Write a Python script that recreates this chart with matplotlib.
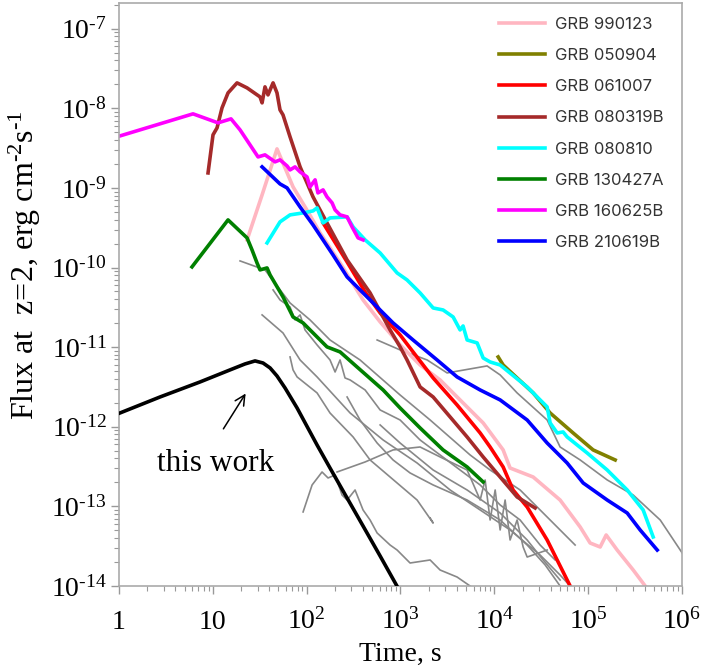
import numpy as np
import matplotlib
matplotlib.use('Agg')
import matplotlib.pyplot as plt
from matplotlib.ticker import FixedLocator, FuncFormatter, LogLocator, NullFormatter

plt.rcParams['font.family'] = ['Liberation Serif', 'DejaVu Serif']
plt.rcParams['mathtext.fontset'] = 'custom'
plt.rcParams['mathtext.rm'] = 'Liberation Serif'
plt.rcParams['mathtext.it'] = 'Liberation Serif:italic'
plt.rcParams['mathtext.bf'] = 'Liberation Serif:bold'

HY = '\u2010'  # short hyphen for exponents, as in the original

# light curves as log10(time / s) and log10(flux / erg cm^-2 s^-1)
# "this work"
model_lt = [0.01, 0.437, 0.864, 1.183, 1.343, 1.45, 1.535, 1.61, 1.684, 1.77, 1.898,
            2.111, 2.249, 2.431, 2.601, 2.783, 2.974]
model_lf = [-11.827, -11.626, -11.437, -11.286, -11.211, -11.173, -11.199, -11.261, -11.362,
            -11.513, -11.764, -12.229, -12.518, -12.895, -13.246, -13.623, -14.025]

# GRB 990123
grb990123_lt = [1.365, 1.525, 1.684, 1.855, 2.015, 2.143, 2.356, 2.601, 2.783, 2.996, 3.209,
                3.422, 3.635, 3.881, 4.094, 4.168, 4.414, 4.701, 4.915, 5.021, 5.128, 5.192,
                5.309, 5.48, 5.608]
grb990123_lf = [-9.653, -9.088, -8.51, -8.987, -9.302, -9.565, -9.942, -10.407, -10.683,
                -10.972, -11.224, -11.412, -11.663, -11.952, -12.291, -12.518, -12.631,
                -12.92, -13.259, -13.46, -13.51, -13.359, -13.548, -13.799, -14.0]

# GRB 050904
grb050904_lt = [4.041, 4.094, 4.414, 4.595, 4.84, 5.053, 5.288]
grb050904_lf = [-11.123, -11.224, -11.575, -11.827, -12.078, -12.291, -12.417]

# GRB 061007
grb061007_lt = [2.175, 2.431, 2.623, 2.783, 2.996, 3.134, 3.348, 3.603, 3.849, 3.955, 4.094,
                4.2, 4.35, 4.563, 4.808]
grb061007_lf = [-9.44, -9.93, -10.307, -10.57, -10.847, -11.06, -11.387, -11.726, -12.078,
                -12.254, -12.505, -12.794, -13.008, -13.422, -14.0]

# GRB 080319B
grb080319b_lt = [0.949, 1.002, 1.045, 1.098, 1.162, 1.258, 1.365, 1.503, 1.525, 1.556, 1.588,
                 1.642, 1.684, 1.716, 1.748, 1.823, 1.93, 2.068, 2.217, 2.431, 2.676, 2.889,
                 2.996, 3.07, 3.209, 3.348, 3.529, 3.71, 3.881, 4.062, 4.243, 4.435]
grb080319b_lf = [-8.812, -8.334, -8.246, -7.995, -7.807, -7.681, -7.744, -7.857, -7.932,
                 -7.731, -7.832, -7.681, -7.807, -8.02, -8.083, -8.359, -8.736, -9.113, -9.44,
                 -9.905, -10.319, -10.784, -10.997, -11.161, -11.5, -11.626, -11.877, -12.128,
                 -12.379, -12.631, -12.882, -13.02]

# GRB 080810
grb080810_lt = [1.578, 1.716, 1.823, 1.962, 2.068, 2.111, 2.175, 2.249, 2.431, 2.495, 2.623,
                2.783, 2.964, 3.07, 3.209, 3.348, 3.454, 3.561, 3.635, 3.667, 3.71, 3.817,
                3.881, 3.955, 4.062, 4.35, 4.563, 4.595, 4.67, 4.733, 4.776, 4.989, 5.203,
                5.416, 5.586, 5.693]
grb080810_lf = [-9.691, -9.427, -9.339, -9.314, -9.289, -9.251, -9.44, -9.377, -9.364, -9.49,
                -9.653, -9.817, -10.068, -10.156, -10.319, -10.508, -10.533, -10.621, -10.784,
                -10.734, -10.91, -10.947, -11.136, -11.186, -11.224, -11.5, -11.751, -11.952,
                -12.078, -12.065, -12.128, -12.329, -12.543, -12.794, -13.045, -13.384]

# GRB 130427A
grb130427a_lt = [0.778, 1.162, 1.365, 1.418, 1.471, 1.503, 1.578, 1.61, 1.748, 1.855, 1.962,
                 2.111, 2.217, 2.356, 2.537, 2.815, 2.996, 3.209, 3.454, 3.71, 3.881]
grb130427a_lf = [-9.992, -9.402, -9.628, -9.779, -9.942, -10.03, -10.005, -10.093, -10.369,
                 -10.621, -10.696, -10.872, -10.997, -11.06, -11.249, -11.538, -11.764,
                 -12.015, -12.291, -12.505, -12.693]

# GRB 160625B
grb160625b_lt = [0.011, 0.789, 1.055, 1.194, 1.29, 1.482, 1.556, 1.663, 1.716, 1.791, 1.823,
                 1.876, 1.93, 2.004, 2.036, 2.09, 2.12, 2.175, 2.217, 2.271, 2.303, 2.356,
                 2.431, 2.484, 2.548, 2.601]
grb160625b_lf = [-8.347, -8.07, -8.183, -8.133, -8.271, -8.611, -8.585, -8.673, -8.648, -8.724,
                 -8.774, -8.736, -8.799, -8.862, -8.987, -8.899, -9.063, -9.025, -9.113,
                 -9.188, -9.276, -9.339, -9.364, -9.49, -9.628, -9.653]

# GRB 210619B
grb210619b_lt = [1.525, 1.716, 1.791, 1.93, 2.068, 2.281, 2.431, 2.708, 2.921, 3.134, 3.39,
                 3.603, 3.849, 4.062, 4.35, 4.563, 4.776, 4.947, 5.203, 5.416, 5.554, 5.736]
grb210619b_lf = [-8.736, -8.95, -9.0, -9.239, -9.465, -9.842, -10.118, -10.445, -10.696,
                 -10.91, -11.161, -11.374, -11.538, -11.663, -11.915, -12.204, -12.455,
                 -12.706, -12.92, -13.083, -13.296, -13.548]

# background sample (grey)
grey_a_lt = [1.29, 1.556, 1.823, 2.036, 2.249, 2.569, 2.996, 3.316, 3.742, 3.955, 4.275, 4.595, 4.861]
grey_a_lf = [-9.917, -10.03, -10.445, -10.658, -10.91, -11.161, -11.601, -11.915, -12.354,
             -12.543, -12.794, -13.171, -13.485]
grey_b_lt = [1.525, 1.748, 1.93, 2.111, 2.463, 2.815, 3.177, 3.529, 3.849, 4.168, 4.488, 4.701, 4.808]
grey_b_lf = [-10.595, -10.822, -11.161, -11.374, -11.827, -12.166, -12.455, -12.794, -13.045,
             -13.296, -13.611, -13.862, -14.0]
grey_c_lt = [1.642, 1.716, 1.823, 1.876, 1.93, 1.983, 2.111, 2.249, 2.303, 2.356, 2.409, 2.463,
             2.623, 2.783, 2.996, 3.209, 3.422, 3.635, 3.849, 4.062, 4.275, 4.488, 4.648]
grey_c_lf = [-10.281, -10.407, -10.495, -10.658, -10.595, -10.784, -10.972, -11.161, -11.312,
             -11.161, -11.387, -11.412, -11.538, -11.789, -11.915, -12.166, -12.354, -12.543,
             -12.731, -12.982, -13.171, -13.485, -13.673]
grey_d_lt = [1.823, 1.855, 1.898, 2.111, 2.249, 2.495, 2.676, 2.964, 3.177, 3.348, 3.316]
grey_d_lf = [-11.123, -11.286, -11.374, -11.575, -11.827, -12.128, -12.417, -12.706, -12.92,
             -13.209, -13.146]
grey_e_lt = [1.962, 2.058, 2.164, 2.228, 2.303, 2.377, 2.431, 2.516, 2.601, 2.676, 2.751,
             2.889, 2.964, 3.102, 3.316, 3.422, 3.603, 3.742]
grey_e_lf = [-13.07, -12.731, -12.568, -12.643, -12.606, -12.857, -12.92, -12.794, -13.045,
             -13.171, -13.334, -13.485, -13.548, -13.711, -13.673, -13.799, -13.887, -14.0]
grey_f_lt = [2.324, 2.623, 2.921, 3.209, 3.422, 3.71, 3.849, 3.902, 3.955, 4.009, 4.062, 4.115,
             4.168, 4.243, 4.307, 4.35, 4.563]
grey_f_lf = [-12.568, -12.442, -12.291, -12.254, -12.379, -12.543, -12.92, -12.668, -13.171,
             -12.794, -13.296, -12.92, -13.422, -13.171, -13.51, -13.636, -13.548]
grey_g_lt = [2.751, 2.996, 3.284, 3.497, 3.923, 4.062, 4.243, 4.563, 4.701, 4.915, 5.203, 5.48,
             5.768, 6.002]
grey_g_lf = [-10.91, -11.035, -11.161, -11.324, -11.236, -11.349, -11.575, -11.915, -12.254,
             -12.417, -12.668, -12.857, -13.171, -13.585]
grey_h_lt = [2.431, 2.569, 2.751, 2.921, 3.102, 3.348, 3.71, 4.062, 4.35, 4.542, 4.701]
grey_h_lf = [-11.626, -11.915, -12.204, -12.417, -12.58, -12.731, -12.92, -13.171, -13.485,
             -13.736, -14.0]
grey_i_lt = [2.783, 2.996, 3.348, 3.71, 4.062, 4.35, 4.52, 4.701]
grey_i_lf = [-11.977, -12.204, -12.543, -12.794, -13.083, -13.422, -13.673, -13.925]

grb_labels = ['GRB 990123', 'GRB 050904', 'GRB 061007', 'GRB 080319B',
              'GRB 080810', 'GRB 130427A', 'GRB 160625B', 'GRB 210619B']
grb_colors = ['#ffb6c1', '#808000', '#ff0000', '#a52a2a',
              '#00ffff', '#008000', '#ff00ff', '#0000ff']
grb_lt = [grb990123_lt, grb050904_lt, grb061007_lt, grb080319b_lt,
          grb080810_lt, grb130427a_lt, grb160625b_lt, grb210619b_lt]
grb_lf = [grb990123_lf, grb050904_lf, grb061007_lf, grb080319b_lf,
          grb080810_lf, grb130427a_lf, grb160625b_lf, grb210619b_lf]
grey_lt = [grey_a_lt, grey_b_lt, grey_c_lt, grey_d_lt, grey_e_lt, grey_f_lt, grey_g_lt, grey_h_lt, grey_i_lt]
grey_lf = [grey_a_lf, grey_b_lf, grey_c_lf, grey_d_lf, grey_e_lf, grey_f_lf, grey_g_lf, grey_h_lf, grey_i_lf]

fig = plt.figure(figsize=(7.02, 6.66), dpi=100)
ax = fig.add_axes([0.1695, 0.1201, 0.802, 0.8754])
ax.set_xscale('log')
ax.set_yscale('log')

for lt, lf in zip(grey_lt, grey_lf):
    ax.plot(10**np.array(lt), 10**np.array(lf), color='#888888', lw=1.2, zorder=1)

handles = []
for lab, col, lt, lf in zip(grb_labels, grb_colors, grb_lt, grb_lf):
    h, = ax.plot(10**np.array(lt), 10**np.array(lf), color=col, lw=2.6, label=lab, zorder=2)
    handles.append(h)

ax.plot(10**np.array(model_lt), 10**np.array(model_lf), color='black', lw=2.6, zorder=3)

ax.text(10.6, 3.5e-13, 'this work', fontsize=22.5, ha='center', va='center')
ax.annotate('', xy=(23.2, 2.8e-12), xytext=(12.5, 8.8e-13),
            arrowprops=dict(arrowstyle='->', color='black', lw=1.1, mutation_scale=18))

ax.set_xlim(1, 1e6)
ax.set_ylim(1e-14, 2.1e-7)


def exp_label(v):
    k = int(round(np.log10(v)))
    if 0 <= k <= 1:
        return '%d' % v
    s = ('%d' % k).replace('-', HY)
    return r'$\mathrm{10^{%s}}$' % s


xt = [1, 10, 1e2, 1e3, 1e4, 1e5, 1e6]
ax.xaxis.set_major_locator(FixedLocator(xt))
ax.xaxis.set_major_formatter(FuncFormatter(lambda v, p: exp_label(v)))
yt = [10.0**k for k in range(-14, -6)]
ax.yaxis.set_major_locator(FixedLocator(yt))
ax.yaxis.set_major_formatter(FuncFormatter(lambda v, p: exp_label(v)))
for a in (ax.xaxis, ax.yaxis):
    a.set_minor_locator(LogLocator(base=10, subs=np.arange(2, 10)))
    a.set_minor_formatter(NullFormatter())

ax.tick_params(which='major', direction='out', length=6, width=1, color='#999999',
               labelsize=20, pad=3)
ax.tick_params(axis='x', which='major', pad=25)
ax.tick_params(which='minor', direction='out', length=3.5, width=0.8, color='#999999')
for lab in ax.xaxis.get_majorticklabels():
    lab.set_verticalalignment('baseline')
for s in ax.spines.values():
    s.set_color('#aaaaaa')
    s.set_linewidth(1.2)

ax.set_xlabel('Time, s', fontsize=20, labelpad=5)
ax.set_ylabel('Flux at  z=2, erg cm$^{%s2}$s$^{%s1}$' % (HY, HY), fontsize=23)
ax.yaxis.set_label_coords(-0.135, 0.55)

leg = ax.legend(handles=handles, loc='upper right', bbox_to_anchor=(0.968, 0.976),
                frameon=False, prop={'family': 'Inter', 'size': 12}, handlelength=2.8,
                handletextpad=0.6, labelspacing=0.97, borderpad=0, borderaxespad=0)
for t in leg.get_texts():
    t.set_color('#333333')

fig.savefig('out.png', dpi=100)
